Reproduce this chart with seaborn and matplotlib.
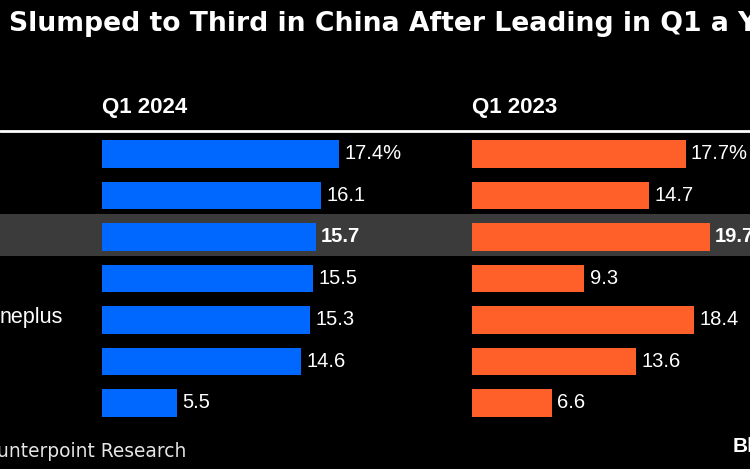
import matplotlib
matplotlib.use("Agg")
import matplotlib.pyplot as plt
from matplotlib.patches import Rectangle
import pandas as pd
import seaborn as sns

rows = ["Row 1", "Row 2", "Row 3", "Row 4", "Row 5", "Row 6", "Row 7"]
row_labels = ["", "", "", "", "neplus", "", ""]
q1_2024 = [17.4, 16.1, 15.7, 15.5, 15.3, 14.6, 5.5]
q1_2023 = [17.7, 14.7, 19.7, 9.3, 18.4, 13.6, 6.6]
highlight_row = 2
title = "Slumped to Third in China After Leading in Q1 a Y"
source = "unterpoint Research"
logo = "Bl"

W, H = 750, 469
BG = "#000000"
BLUE = "#0068FF"
ORANGE = "#FF5F29"
BAND = "#3B3B3B"

sns.set_theme(style="white")
plt.rcParams["font.family"] = ["Liberation Sans", "DejaVu Sans"]

fig = plt.figure(figsize=(W / 100, H / 100), dpi=100, facecolor=BG)


def make_axes(left, right):
    top, bottom = 133.2, 423.7
    ax = fig.add_axes([left / W, 1 - bottom / H, (right - left) / W, (bottom - top) / H])
    ax.patch.set_alpha(0)
    return ax


def draw(ax, values, color, px_per_unit, width_px, header):
    df = pd.DataFrame({"row": rows, "value": values})
    sns.barplot(data=df, y="row", x="value", orient="h", color=color, width=0.663,
                saturation=1, linewidth=0, edgecolor="none", ax=ax)
    ax.set_xlim(0, width_px / px_per_unit)
    ax.set_ylim(6.5, -0.5)
    ax.set_xlabel("")
    ax.set_ylabel("")
    ax.set_xticks([])
    ax.set_yticks([])
    sns.despine(ax=ax, left=True, bottom=True)
    labels = [f"{v:.1f}%" if i == 0 else f"{v:.1f}" for i, v in enumerate(values)]
    texts = ax.bar_label(ax.containers[0], labels=labels, padding=3.8, color="white", fontsize=14.5)
    texts[highlight_row].set_fontweight("bold")
    ax.text(0, 1 + 26 / 290.5, header, transform=ax.transAxes, color="white",
            fontsize=16, fontweight="bold", va="center", ha="left")


fig.add_artist(Rectangle((0, 1 - 256 / H), 1, 42 / H, transform=fig.transFigure,
                         facecolor=BAND, edgecolor="none", zorder=-5))
fig.add_artist(plt.Line2D([0, 1], [1 - 131.3 / H] * 2, transform=fig.transFigure,
                          color="white", linewidth=2))

ax1 = make_axes(101.5, 460)
draw(ax1, q1_2024, BLUE, 13.66, 358.5, "Q1 2024")
ax2 = make_axes(472, 750)
draw(ax2, q1_2023, ORANGE, 12.07, 278, "Q1 2023")

ax1.text(-38.5 / 13.66, 3.95, row_labels[4], color="white", fontsize=15.5, va="center", ha="right")

fig.text(9 / W, 1 - 24 / H, title, color="white", fontsize=19.2, fontweight="bold",
         family="DejaVu Sans", va="center", ha="left")
fig.text(186 / W, 1 - 451 / H, source, color="#E6E6E6", fontsize=13.4,
         family="DejaVu Sans", va="center", ha="right")
fig.text(733 / W, 1 - 446 / H, logo, color="white", fontsize=15, fontweight="bold",
         va="center", ha="left")

fig.savefig("out.png", dpi=100, facecolor=BG)
